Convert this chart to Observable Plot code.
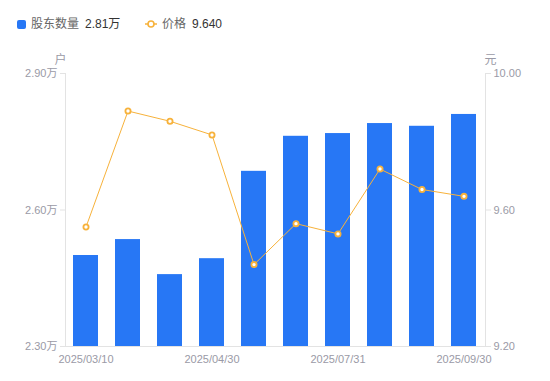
<!DOCTYPE html>
<html><head><meta charset="utf-8">
<script src="https://cdn.jsdelivr.net/npm/d3@7"></script>
<script src="https://cdn.jsdelivr.net/npm/@observablehq/plot@0.6"></script>
<style>
body{margin:0;background:#fff;font-family:Arial,"Liberation Sans","Noto Sans CJK SC",sans-serif;}
#legend{height:48px;position:relative;font-size:12px;}
#legend span{position:absolute;top:16px;line-height:16px;white-space:nowrap;}
</style></head><body>
<div id="legend"></div><div id="chart"></div>
<script>
const dates = ["2025/03/10","2025/03/20","2025/03/31","2025/04/30","2025/05/31","2025/06/30","2025/07/31","2025/08/31","2025/09/10","2025/09/30"];
const holders = [2.500, 2.535, 2.458, 2.493, 2.685, 2.762, 2.768, 2.790, 2.784, 2.810]; // 万户
const prices = [9.55, 9.89, 9.86, 9.82, 9.44, 9.56, 9.53, 9.72, 9.66, 9.64];
const leftTicks = [2.3, 2.6, 2.9];
const rightTicks = [9.2, 9.6, 10.0];
const xTickLabels = ["2025/03/10","2025/04/30","2025/07/31","2025/09/30"];
const seriesNames = ["股东数量", "价格"];
const units = ["户", "元"];

const blue = "#2777F5", orange = "#F7B23B", grid = "#e3e3e3", tickColor = "#9a9aa6";
const yMin = leftTicks[0], yMax = leftTicks[2], pMin = rightTicks[0], pMax = rightTicks[2];
const toY = p => yMin + (p - pMin) * (yMax - yMin) / (pMax - pMin);

const data = dates.map((d, i) => ({date: d, h: holders[i], p: prices[i], py: toY(prices[i])}));

// legend
const lg = document.getElementById("legend");
lg.innerHTML = `
<span style="left:17px;top:20px;width:9px;height:9px;background:${blue};border-radius:2px"></span>
<span style="left:31px;color:#666">${seriesNames[0]}</span>
<span style="left:85px;color:#333">${holders[holders.length-1].toFixed(2)}万</span>
<svg style="position:absolute;left:145px;top:18px" width="12" height="12"><line x1="0" y1="6" x2="12" y2="6" stroke="${orange}" stroke-width="1.5"/><circle cx="6" cy="6" r="3" fill="#fff" stroke="${orange}" stroke-width="1.6"/></svg>
<span style="left:162px;color:#666">${seriesNames[1]}</span>
<span style="left:192px;color:#333">${prices[prices.length-1].toFixed(3)}</span>`;

const chart = Plot.plot({
  width: 550, height: 333,
  marginTop: 25, marginBottom: 35, marginLeft: 65, marginRight: 65,
  style: {fontFamily: 'Arial,"Liberation Sans","Noto Sans CJK SC",sans-serif', fontSize: "11px", color: tickColor},
  x: {type: "band", domain: dates, paddingInner: 0.4, paddingOuter: 0.2, axis: null, label: null},
  y: {domain: [yMin, yMax], axis: null, label: null},
  marks: [
    Plot.barY(data, {x: "date", y1: yMin, y2: "h", fill: blue, inset: 0}),
    Plot.ruleY([yMin], {stroke: grid}),
    Plot.frame({anchor: "left", stroke: grid}),
    Plot.frame({anchor: "right", stroke: grid}),
    Plot.axisY(leftTicks, {anchor: "left", label: null, tickSize: 5, tickPadding: 3, stroke: grid, fill: tickColor, tickFormat: d => d.toFixed(2) + "万"}),
    Plot.axisY(rightTicks.map(toY), {anchor: "right", label: null, tickSize: 5, tickPadding: 3, stroke: grid, fill: tickColor, tickFormat: d => (pMin + (d - yMin) * (pMax - pMin) / (yMax - yMin)).toFixed(2)}),
    Plot.axisX(xTickLabels, {anchor: "bottom", label: null, tickSize: 0, tickPadding: 6, dy: 3, fill: tickColor}),
    Plot.lineY(data, {x: "date", y: "py", stroke: orange, strokeWidth: 1}),
    Plot.dot(data, {x: "date", y: "py", r: 2.6, fill: "#fff", stroke: orange, strokeWidth: 1.8}),
    Plot.text([units[0]], {frameAnchor: "top-left", dx: -5, dy: -18, textAnchor: "middle", fill: tickColor, fontSize: 12}),
    Plot.text([units[1]], {frameAnchor: "top-right", dx: 5, dy: -18, textAnchor: "middle", fill: tickColor, fontSize: 12})
  ]
});
document.getElementById("chart").appendChild(chart);
</script></body></html>
